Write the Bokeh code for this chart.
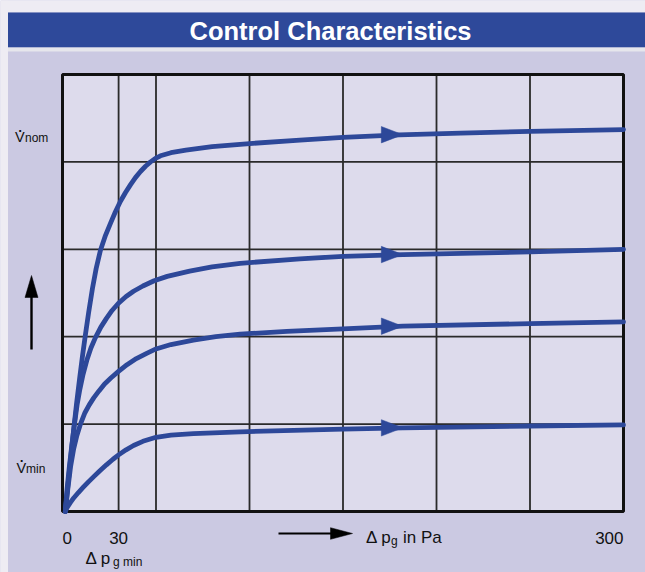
import numpy as np
from bokeh.plotting import figure
from bokeh.models import Label, BoxAnnotation, Range1d
from bokeh.embed import file_html
from bokeh.resources import INLINE

# ---------------- data ----------------
title_text = "Control Characteristics"
x_tick_values = [0, 30, 300]
x_tick_labels = ["0", "30", "300"]
x_grid_values = [30, 50, 100, 150, 200, 250]
y_grid_values = [1, 2, 3, 4]
x_min, x_max = 0, 300
y_min, y_max = 0, 5

c1_x = [1.5, 2.7, 3.9, 5, 6.1, 7.6, 9.2, 10.7, 12.3, 14, 16, 18, 20.3, 23, 25.7, 28.3, 31, 33.7, 36.4, 39, 41.7, 44.4, 47.1, 49.7, 52.4, 58, 66, 80, 100, 127, 150, 180, 213, 250, 300]
c1_y = [0, 0.26, 0.51, 0.74, 0.96, 1.25, 1.53, 1.78, 2.03, 2.28, 2.55, 2.78, 2.99, 3.16, 3.30, 3.43, 3.55, 3.65, 3.74, 3.82, 3.89, 3.95, 4.0, 4.04, 4.07, 4.105, 4.135, 4.175, 4.21, 4.25, 4.28, 4.31, 4.33, 4.35, 4.37]

c2_x = [1.5, 2.4, 3.6, 5, 6.4, 7.8, 9.3, 11, 13, 15.2, 17.6, 20.5, 23.5, 26.5, 29.8, 34, 38, 43, 49, 56, 68, 80, 95, 127, 150, 182, 250, 300]
c2_y = [0, 0.25, 0.5, 0.76, 1.0, 1.22, 1.4, 1.57, 1.73, 1.87, 1.99, 2.11, 2.21, 2.3, 2.38, 2.46, 2.52, 2.58, 2.64, 2.69, 2.75, 2.8, 2.84, 2.89, 2.92, 2.94, 2.97, 3.0]

c3_x = [1.5, 2.8, 4.3, 6, 7.7, 9.6, 12, 14.3, 16.7, 19.5, 22.5, 26, 29.8, 34.5, 39.5, 45, 50, 58, 70, 82, 95, 120, 150, 182, 250, 300]
c3_y = [0, 0.25, 0.51, 0.72, 0.87, 1.0, 1.13, 1.22, 1.3, 1.38, 1.46, 1.53, 1.6, 1.68, 1.75, 1.81, 1.86, 1.91, 1.96, 2.0, 2.03, 2.06, 2.09, 2.12, 2.15, 2.17]

c4_x = [1.5, 2.5, 4, 6, 8.5, 11, 14, 17, 20, 23.5, 27, 30, 34, 38, 43, 50, 58, 70, 95, 150, 182, 250, 300]
c4_y = [0, 0.045, 0.095, 0.155, 0.217, 0.275, 0.342, 0.405, 0.466, 0.534, 0.598, 0.648, 0.706, 0.755, 0.803, 0.849, 0.874, 0.892, 0.912, 0.942, 0.957, 0.978, 0.99]

curves_x = [c1_x, c2_x, c3_x, c4_x]
curves_y = [c1_y, c2_y, c3_y, c4_y]
arrow_x = 182

# ---------------- style ----------------
OUTER = "#eeecf3"
PANEL = "#cbc9e2"
INNER = "#dddbec"
BLUE = "#2e499a"
CURVE = "#2d4899"
SEP = "#e6e6ec"
FONT = "Liberation Sans"
OFF = 0  # page offset of the figure

W, H = 645, 572
fx0, fx1 = 62, 623      # figure px of x_min / x_max
fy0, fy1 = 511, 74      # figure px (from top) of y_min / y_max
sx = (fx1 - fx0) / (x_max - x_min)
sy = (fy0 - fy1) / (y_max - y_min)
xr = Range1d(x_min - fx0 / sx, x_min + (W - fx0) / sx)
yr = Range1d(y_min - (H - fy0) / sy, y_min + fy0 / sy)


def X(page_px):
    return x_min + (page_px - OFF - fx0) / sx


def Y(page_py):
    return y_min + (fy0 - (page_py - OFF)) / sy


p = figure(width=W, height=H, x_range=xr, y_range=yr, output_backend="svg",
           toolbar_location=None, x_axis_location=None, y_axis_location=None,
           min_border=0, background_fill_color=PANEL, border_fill_color=PANEL,
           outline_line_color=None)
for g in p.grid:
    g.visible = False

# page strips and title band
p.add_layout(BoxAnnotation(right=X(7.5), fill_color=OUTER, fill_alpha=1, line_color=None))
p.add_layout(BoxAnnotation(bottom=Y(12), fill_color=OUTER, fill_alpha=1, line_color=None))
p.add_layout(BoxAnnotation(left=X(7.5), top=Y(12), bottom=Y(47), fill_color=BLUE, fill_alpha=1, line_color=None))
p.add_layout(BoxAnnotation(left=X(7.5), top=Y(47), bottom=Y(51), fill_color=SEP, fill_alpha=1, line_color=None))
p.add_layout(Label(x=X(330), y=Y(30), text=title_text, text_align="center", text_baseline="middle",
                   text_color="white", text_font=FONT, text_font_style="bold", text_font_size="25.5px"))

# plot area
p.quad(left=[x_min], right=[x_max], bottom=[y_min], top=[y_max], fill_color=INNER, line_color=None)
n = len(x_grid_values)
p.segment(x0=x_grid_values, y0=[y_min] * n, x1=x_grid_values, y1=[y_max] * n,
          line_color="#2a2a2a", line_width=1.8)
m = len(y_grid_values)
p.segment(x0=[x_min] * m, y0=y_grid_values, x1=[x_max] * m, y1=y_grid_values,
          line_color="#2a2a2a", line_width=1.8)
p.quad(left=[x_min], right=[x_max], bottom=[y_min], top=[y_max], fill_color=None,
       line_color="#111111", line_width=3)

for cx, cy in zip(curves_x, curves_y):
    p.line(cx, cy, line_color=CURVE, line_width=4.8, line_join="round", line_cap="round")

# arrow heads on curves
L, HW = 21.5, 8.2
hx, hy = [], []
for cx, cy in zip(curves_x, curves_y):
    yt = float(np.interp(arrow_x, cx, cy))
    hx.append([arrow_x, arrow_x - L / sx, arrow_x - L / sx])
    hy.append([yt, yt + HW / sy, yt - HW / sy])
p.patches(hx, hy, fill_color=CURVE, line_color=CURVE, line_width=0.5)

# vertical arrow (left)
ax_v = X(31)
p.segment(x0=[ax_v], y0=[Y(349)], x1=[ax_v], y1=[Y(292)], line_color="black", line_width=2.4)
p.patch([ax_v, ax_v - 6.5 / sx, ax_v + 6.5 / sx], [Y(275), Y(297), Y(297)],
        fill_color="black", line_color="black", line_width=0.5)
# horizontal arrow (bottom)
ay_h = Y(533)
p.segment(x0=[X(278)], y0=[ay_h], x1=[X(335)], y1=[ay_h], line_color="black", line_width=2.2)
p.patch([X(352), X(330), X(330)], [ay_h, ay_h + 5.8 / sy, ay_h - 5.8 / sy],
        fill_color="black", line_color="black", line_width=0.5)

# tick labels
aligns = ["left", "center", "right"]
for v, t, a in zip(x_tick_values, x_tick_labels, aligns):
    p.add_layout(Label(x=v, y=Y(537), text=t, text_align=a, text_baseline="alphabetic",
                       text_font=FONT, text_font_size="17px", text_color="#111111"))


def txt(x, y, t, size, align="left"):
    p.add_layout(Label(x=x, y=y, text=t, text_align=align, text_baseline="alphabetic",
                       text_font=FONT, text_font_size=size, text_color="#111111"))


# axis titles
txt(X(365.5), Y(537), "\u0394 p", "17px")
txt(X(390.5), Y(540), "g", "12px")
txt(X(402.5), Y(537), "in Pa", "17px")
txt(X(85), Y(558), "\u0394 p", "17px")
txt(X(112.5), Y(561.5), "g min", "12px")

# y labels (V with dot above, subscript)
txt(X(14.5), Y(136.5), "V", "14.5px")
txt(X(19.6), Y(128.8), "\u00b7", "19px", align="center")
txt(X(24.5), Y(137.5), "nom", "12px")
txt(X(16), Y(467), "V", "14.5px")
txt(X(21.1), Y(459.3), "\u00b7", "19px", align="center")
txt(X(25.5), Y(468), "min", "12px")

open("out.html", "w").write(file_html(p, INLINE))
